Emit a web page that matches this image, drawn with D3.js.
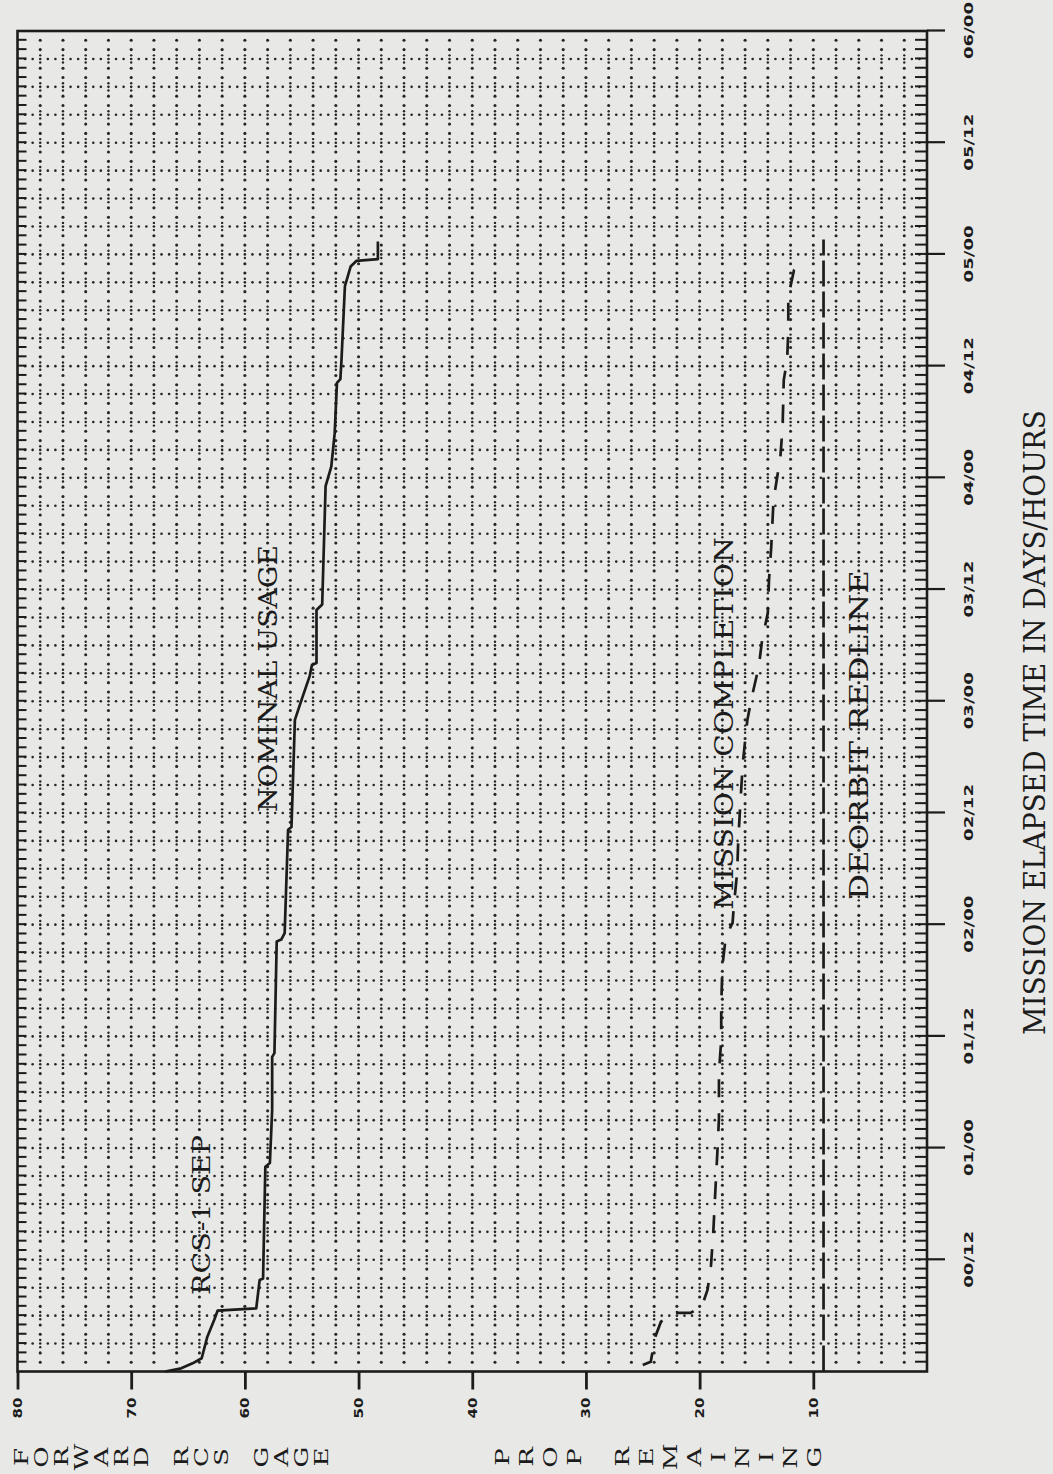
<!DOCTYPE html>
<html>
<head>
<meta charset="utf-8">
<script src="https://cdn.jsdelivr.net/npm/d3@7"></script>
<style>
  html, body { margin: 0; padding: 0; background: #e8e8e6; }
  svg { display: block; }
</style>
</head>
<body>
<svg id="chart" width="1053" height="1474"></svg>
<script>
// Forward RCS gauge propellant remaining against mission elapsed time (hours).
const timeTicks = [12, 24, 36, 48, 60, 72, 84, 96, 108, 120, 132, 144];
const timeTickLabels = ["00/12", "01/00", "01/12", "02/00", "02/12", "03/00",
                        "03/12", "04/00", "04/12", "05/00", "05/12", "06/00"];
const valueTicks = [80, 70, 60, 50, 40, 30, 20, 10];

// Nominal usage profile
const nominalHours = [0, 0.34, 0.88, 1.42, 3.74, 5.53, 6.53, 6.79, 9.83, 10.0, 22.0, 22.4,
  28.1, 33.8, 34.2, 46.2, 46.4, 47.1, 58.2, 58.5, 70.0, 72.2, 74.7, 75.9, 76.1, 81.8, 82.4,
  95.1, 97.2, 100.8, 106.2, 106.6, 108.7, 116.6, 118.7, 119.3, 119.5, 121.4];
const nominalValues = [67.0, 65.6, 64.6, 63.8, 63.3, 62.7, 62.4, 59.0, 58.7, 58.4, 58.2, 57.8,
  57.6, 57.6, 57.4, 57.2, 56.8, 56.5, 56.2, 55.9, 55.6, 55.0, 54.3, 54.1, 53.7, 53.7, 53.2,
  52.9, 52.4, 52.1, 51.9, 51.6, 51.5, 51.2, 50.7, 50.2, 48.3, 48.3];

// Propellant needed for mission completion
const completionHours = [0.7, 1.05, 3.74, 5.35, 6.3, 6.3, 7.0, 8.8, 11.4, 14.9, 19.8, 24.5,
  27.2, 32.1, 35.6, 39.2, 43.5, 46.7, 48.2, 49.9, 53.6, 57.1, 61.4, 65.4, 70.0, 72.5, 75.7,
  78.6, 81.5, 85.0, 88.6, 93.6, 98.2, 101.5, 106.5, 108.7, 111.9, 115.5, 118.3, 119.1];
const completionValues = [25.0, 24.3, 23.9, 23.4, 22.3, 20.8, 19.8, 19.3, 19.0, 18.8, 18.6, 18.4,
  18.3, 18.3, 18.1, 18.1, 18.0, 17.7, 17.1, 17.0, 16.7, 16.6, 16.4, 16.2, 15.8, 15.4, 14.8,
  14.5, 14.0, 13.9, 13.7, 13.5, 12.9, 12.7, 12.6, 12.3, 12.2, 12.2, 11.7, 10.7];

// Deorbit redline
const redlineHours = [0, 121.6];
const redlineValue = 9.1;

// Stacked value-axis title, typed in two blocks
const yTitleBlockA = ["FORWARD", "RCS", "GAGE"];
const yTitleBlockB = ["PROP", "REMAINING"];
const xTitle = "MISSION ELAPSED TIME IN DAYS/HOURS";

const INK = "#1c1c1c";
const svg = d3.select("#chart");

// The plot is laid out with time running along local x and propellant along local y,
// then turned a quarter turn counter-clockwise onto the page.
const originY = 1371.5;
const g = svg.append("g").attr("transform", `translate(0,${originY}) rotate(-90)`);

const x = d3.scaleLinear().domain([0, 144]).range([0, 1340.5]);
const y = d3.scaleLinear().domain([0, 80]).range([927, 17.5]);

// ---- dotted grid ----
const grid = g.append("g").attr("fill", "#262626");
const hours = d3.range(1, 144);
const gridVals = d3.range(2, 80, 2);
const colDots = [];
gridVals.forEach(v => hours.forEach(h => { if (h % 3 !== 0) colDots.push([h, v]); }));
grid.selectAll("circle.c").data(colDots).join("circle")
  .attr("class", "c").attr("cx", d => x(d[0])).attr("cy", d => y(d[1])).attr("r", 1.55);
const rowDots = [];
d3.range(3, 144, 3).forEach(h => d3.range(1, 120).forEach(k => rowDots.push([h, k * 2 / 3])));
grid.selectAll("circle.r").data(rowDots).join("circle")
  .attr("class", "r").attr("cx", d => x(d[0])).attr("cy", d => y(d[1])).attr("r", 1.3);
// small crosses where the 3-hour rows meet the value columns
const crossDots = [];
d3.range(3, 144, 3).forEach(h => gridVals.forEach(v => { crossDots.push([h, v, -1]); crossDots.push([h, v, 1]); }));
grid.selectAll("circle.x").data(crossDots).join("circle")
  .attr("class", "x").attr("cx", d => x(d[0]) + d[2] * 3.6).attr("cy", d => y(d[1])).attr("r", 1.2);

// ---- frame and hourly edge ticks ----
g.append("rect")
  .attr("x", x(0)).attr("y", y(80))
  .attr("width", x(144) - x(0)).attr("height", y(0) - y(80))
  .attr("fill", "none").attr("stroke", INK).attr("stroke-width", 2.6);

const edgeBottom = g.append("g").attr("transform", `translate(0,${y(0)})`)
  .call(d3.axisTop(x).tickValues(hours).tickSize(12).tickFormat(""));
const edgeTop = g.append("g").attr("transform", `translate(0,${y(80)})`)
  .call(d3.axisBottom(x).tickValues(hours).tickSize(9).tickFormat(""));
[edgeBottom, edgeTop].forEach(a => {
  a.select(".domain").remove();
  a.selectAll("line").attr("stroke", INK).attr("stroke-width", 2);
});

// ---- value axis ----
const yAxis = g.append("g").attr("transform", `translate(${x(0)},0)`)
  .call(d3.axisLeft(y).tickValues(valueTicks).tickSize(18).tickPadding(8));
yAxis.select(".domain").remove();
yAxis.selectAll("line").attr("stroke", INK).attr("stroke-width", 2.8);
yAxis.selectAll("text")
  .attr("fill", INK).attr("font-family", "DejaVu Sans").attr("font-weight", "bold")
  .attr("font-size", 12).attr("textLength", 21).attr("lengthAdjust", "spacingAndGlyphs");

// ---- time axis ----
const xAxis = g.append("g").attr("transform", `translate(0,${y(0)})`)
  .call(d3.axisBottom(x).tickValues(timeTicks).tickSize(18)
    .tickFormat((d, i) => timeTickLabels[i]));
xAxis.select(".domain").remove();
xAxis.selectAll("line").attr("stroke", INK).attr("stroke-width", 2.2);
xAxis.selectAll("text")
  .attr("y", 46).attr("dy", 0)
  .attr("fill", INK).attr("font-family", "DejaVu Sans").attr("font-weight", "bold")
  .attr("font-size", 12).attr("textLength", 57).attr("lengthAdjust", "spacingAndGlyphs");

// ---- series ----
const line = d3.line().x(d => x(d[0])).y(d => y(d[1]));
g.append("path")
  .datum(nominalHours.map((h, i) => [h, nominalValues[i]]))
  .attr("d", line).attr("fill", "none").attr("stroke", INK)
  .attr("stroke-width", 2.7).attr("stroke-linejoin", "round");
g.append("path")
  .datum(completionHours.map((h, i) => [h, completionValues[i]]))
  .attr("d", line).attr("fill", "none").attr("stroke", INK)
  .attr("stroke-width", 2.7).attr("stroke-dasharray", "18,16");
g.append("path")
  .datum(redlineHours.map(h => [h, redlineValue]))
  .attr("d", line).attr("fill", "none").attr("stroke", INK)
  .attr("stroke-width", 2.7).attr("stroke-dasharray", "26,5");

// ---- annotations ----
const serif = "DejaVu Serif";
function note(text, u0, u1, base, size) {
  g.append("text").attr("x", u0).attr("y", base)
    .attr("font-family", serif).attr("font-size", size).attr("fill", INK)
    .attr("textLength", u1 - u0).attr("lengthAdjust", "spacingAndGlyphs")
    .text(text);
}
note("RCS-1 SEP", originY - 1295, originY - 1135, 210, 24);
note("NOMINAL USAGE", originY - 812, originY - 545, 277, 26);
note("MISSION COMPLETION", originY - 910, originY - 537, 733, 26);
note("DEORBIT REDLINE", originY - 900, originY - 570, 868, 26);
note(xTitle, originY - 1035, originY - 410, 1045, 29);

// ---- stacked value-axis title ----
function stack(words, start, step) {
  const out = [];
  let slot = 0;
  words.forEach(w => {
    [...w].forEach(ch => { out.push({ ch, pos: start + slot * step }); slot++; });
    slot++;
  });
  return out;
}
const letters = stack(yTitleBlockA, 22, 20).concat(stack(yTitleBlockB, 503, 24));
const ux = originY - 1457;
g.append("g").selectAll("text").data(letters).join("text")
  .attr("x", ux).attr("y", d => d.pos)
  .attr("dy", "0.36em").attr("text-anchor", "middle")
  .attr("font-family", serif).attr("font-size", 18).attr("fill", INK)
  .attr("transform", d => `translate(${ux},${d.pos}) scale(1.45,1) translate(${-ux},${-d.pos})`)
  .text(d => d.ch);
</script>
</body>
</html>
